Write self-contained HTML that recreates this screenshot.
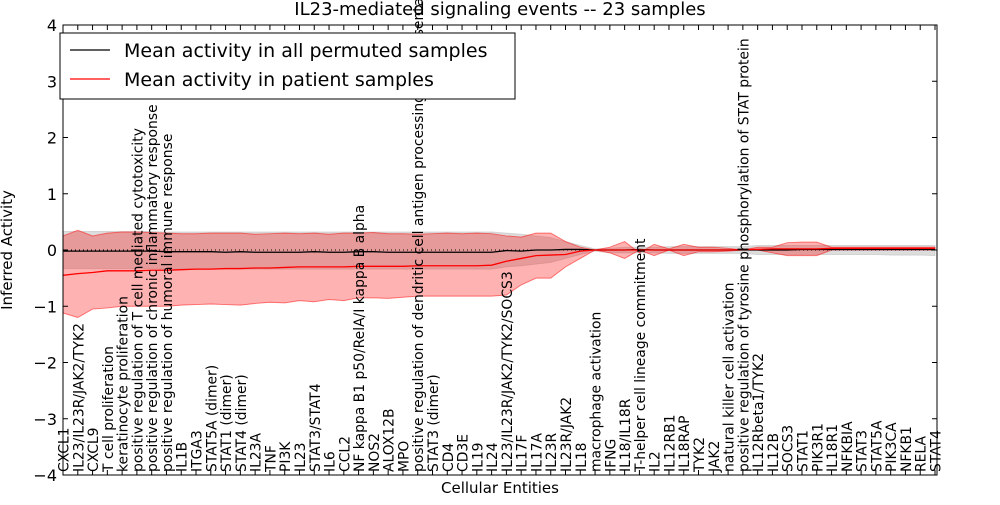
<!DOCTYPE html>
<html><head><meta charset="utf-8"><style>
body{margin:0;background:#fff;font-family:"Liberation Sans","DejaVu Sans",sans-serif}
svg text{font-family:"DejaVu Sans","Liberation Sans",sans-serif}
</style></head><body>
<svg id="chart" width="1000" height="500" xmlns="http://www.w3.org/2000/svg">
<rect width="1000" height="500" fill="#fff"/>
<g id="plot"></g>
<text x="500" y="15" text-anchor="middle" font-size="18">IL23-mediated signaling events -- 23 samples</text>
</svg>
<script>
const categories=["CXCL1","IL23/IL23R/JAK2/TYK2","CXCL9","T cell proliferation","keratinocyte proliferation","positive regulation of T cell mediated cytotoxicity","positive regulation of chronic inflammatory response","positive regulation of humoral immune response","IL1B","ITGA3","STAT5A (dimer)","STAT1 (dimer)","STAT4 (dimer)","IL23A","TNF","PI3K","IL23","STAT3/STAT4","IL6","CCL2","NF kappa B1 p50/RelA/I kappa B alpha","NOS2","ALOX12B","MPO","positive regulation of dendritic cell antigen processing and presentation","STAT3 (dimer)","CD4","CD3E","IL19","IL24","IL23/IL23R/JAK2/TYK2/SOCS3","IL17F","IL17A","IL23R","IL23R/JAK2","IL18","macrophage activation","IFNG","IL18/IL18R","T-helper cell lineage commitment","IL2","IL12RB1","IL18RAP","TYK2","JAK2","natural killer cell activation","positive regulation of tyrosine phosphorylation of STAT protein","IL12Rbeta1/TYK2","IL12B","SOCS3","STAT1","PIK3R1","IL18R1","NFKBIA","STAT3","STAT5A","PIK3CA","NFKB1","RELA","STAT4"];
const patientMean=[-0.45,-0.42,-0.4,-0.37,-0.37,-0.37,-0.36,-0.36,-0.35,-0.34,-0.34,-0.33,-0.33,-0.32,-0.32,-0.31,-0.3,-0.3,-0.3,-0.3,-0.29,-0.29,-0.29,-0.29,-0.28,-0.28,-0.28,-0.28,-0.28,-0.27,-0.2,-0.15,-0.1,-0.09,-0.08,-0.02,0,0,0,0,0,0,0,0,0,0,0.01,0.01,0.02,0.02,0.02,0.02,0.03,0.03,0.03,0.03,0.03,0.03,0.03,0.03];
const patientUpper=[0.25,0.35,0.25,0.3,0.32,0.32,0.31,0.3,0.29,0.29,0.3,0.3,0.3,0.28,0.29,0.3,0.29,0.3,0.28,0.3,0.3,0.31,0.29,0.29,0.28,0.29,0.3,0.29,0.3,0.29,0.25,0.23,0.3,0.3,0.15,0.05,0,0.05,0.15,-0.05,0.1,0.02,0.1,0.05,0.05,0.03,0,0.05,0.05,0.13,0.14,0.14,0.05,0.05,0.05,0.05,0.05,0.05,0.05,0.05];
const patientLower=[-1.12,-1.2,-1.05,-1.03,-1.0,-1.0,-1.0,-1.0,-0.98,-0.97,-0.96,-0.97,-0.98,-0.95,-0.93,-0.94,-0.9,-0.92,-0.88,-0.9,-0.85,-0.85,-0.86,-0.84,-0.82,-0.82,-0.82,-0.82,-0.82,-0.82,-0.8,-0.62,-0.5,-0.5,-0.3,-0.15,0,-0.05,-0.15,0,-0.1,0,-0.1,-0.03,-0.03,-0.02,0,0,-0.05,-0.1,-0.1,-0.1,0,0,0,0,0,0,0,0];
const permMean=[-0.02,-0.02,-0.02,-0.02,-0.02,-0.02,-0.02,-0.03,-0.03,-0.03,-0.03,-0.04,-0.03,-0.04,-0.04,-0.04,-0.04,-0.03,-0.04,-0.04,-0.03,-0.03,-0.04,-0.04,-0.04,-0.04,-0.04,-0.04,-0.04,-0.04,-0.01,-0.02,0,0,0.01,0.01,0,0,0,0.01,0,0,0,0,0,0,0,0,0,0,0.01,0.01,0.01,0.01,0.01,0.01,0.01,0.01,0.01,0.01];
const permUpper=[0.33,0.33,0.33,0.33,0.33,0.33,0.33,0.32,0.32,0.32,0.32,0.32,0.32,0.32,0.32,0.32,0.32,0.32,0.32,0.32,0.32,0.32,0.32,0.32,0.32,0.32,0.32,0.32,0.32,0.32,0.3,0.28,0.25,0.22,0.15,0.08,0.02,0.03,0.05,0.05,0.05,0.06,0.06,0.06,0.06,0.06,0.06,0.08,0.08,0.08,0.08,0.08,0.08,0.08,0.08,0.08,0.08,0.08,0.08,0.08];
const permLower=[-0.33,-0.33,-0.33,-0.33,-0.33,-0.33,-0.33,-0.34,-0.34,-0.34,-0.34,-0.34,-0.34,-0.34,-0.34,-0.34,-0.34,-0.34,-0.34,-0.34,-0.34,-0.34,-0.34,-0.34,-0.34,-0.34,-0.34,-0.34,-0.34,-0.34,-0.3,-0.28,-0.25,-0.22,-0.15,-0.08,-0.02,-0.05,-0.05,-0.05,-0.05,-0.06,-0.06,-0.06,-0.06,-0.06,-0.06,-0.08,-0.08,-0.08,-0.08,-0.08,-0.08,-0.08,-0.08,-0.08,-0.09,-0.09,-0.09,-0.1];
const yTicks=[-4,-3,-2,-1,0,1,2,3,4];

const L=63,R=937,T=25,B=475;
const NS="http://www.w3.org/2000/svg";
const g=document.getElementById('plot');
const xs=i=>L+i*(R-2-L)/(categories.length-1);
const ys=v=>B-(v+4)*(B-T)/8;
function mk(tag,attrs,parent){const e=document.createElementNS(NS,tag);for(const k in attrs)e.setAttribute(k,attrs[k]);(parent||g).appendChild(e);return e;}
function band(up,lo,fill,op,stroke,name){
  let d='M'+up.map((v,i)=>xs(i)+','+ys(v)).join('L');
  for(let i=lo.length-1;i>=0;i--)d+='L'+xs(i)+','+ys(lo[i]);
  const p=mk('path',{d:d+'Z',fill:fill,'fill-opacity':op,stroke:stroke,'stroke-opacity':0.5,'stroke-width':1});
  
  
}
function line(vals,color,name){
  const p=mk('polyline',{points:vals.map((v,i)=>xs(i)+','+ys(v)).join(' '),fill:'none',stroke:color,'stroke-width':1.3});
  
  
}
band(permUpper,permLower,'#bbbbbb',0.5,'#bbbbbb','permuted-band');
band(patientUpper,patientLower,'#ff0000',0.3,'#ff0000','patient-band');
const zl=mk('line',{x1:L,x2:R,y1:ys(0),y2:ys(0),stroke:'#000','stroke-dasharray':'1,3','stroke-width':1});


line(permMean,'#000','permuted-mean-line');
line(patientMean,'#ff0000','patient-mean-line');
const fr=mk('rect',{x:L,y:T,width:R-L,height:B-T,fill:'none',stroke:'#000','stroke-width':1});


yTicks.forEach(v=>{
  mk('line',{x1:L,x2:L+5,y1:ys(v),y2:ys(v),stroke:'#000'});
  mk('line',{x1:R,x2:R-5,y1:ys(v),y2:ys(v),stroke:'#000'});
  const t=mk('text',{x:L-6,y:ys(v)+6,'text-anchor':'end','font-size':16});
  t.textContent=(v<0?'\u2212'+(-v):v);
  
  
});
categories.forEach((c,i)=>{
  const x=xs(i);
  mk('line',{x1:x,x2:x,y1:B,y2:B-5,stroke:'#000'});
  mk('line',{x1:x,x2:x,y1:T,y2:T+5,stroke:'#000'});
  const t=mk('text',{transform:'translate('+(x+5.5)+','+(B-3)+') rotate(-90)','font-size':13.9});
  t.textContent=c;
  
  
});
const xt=mk('text',{x:500,y:493,'text-anchor':'middle','font-size':15});
xt.textContent='Cellular Entities';


const yt=mk('text',{transform:'translate(12,250) rotate(-90)','text-anchor':'middle','font-size':15});
yt.textContent='Inferred Activity';


const lg=mk('g',{});


mk('rect',{x:60,y:33,width:455,height:66,fill:'#fff',stroke:'#000'},lg);
mk('line',{x1:70,x2:110,y1:50,y2:50,stroke:'#000','stroke-width':1.3},lg);
mk('line',{x1:70,x2:110,y1:79,y2:79,stroke:'#f00','stroke-width':1.3},lg);
const l1=mk('text',{x:124,y:57,'font-size':19},lg);l1.textContent='Mean activity in all permuted samples';


const l2=mk('text',{x:124,y:86,'font-size':19},lg);l2.textContent='Mean activity in patient samples';


</script>
</body></html>
